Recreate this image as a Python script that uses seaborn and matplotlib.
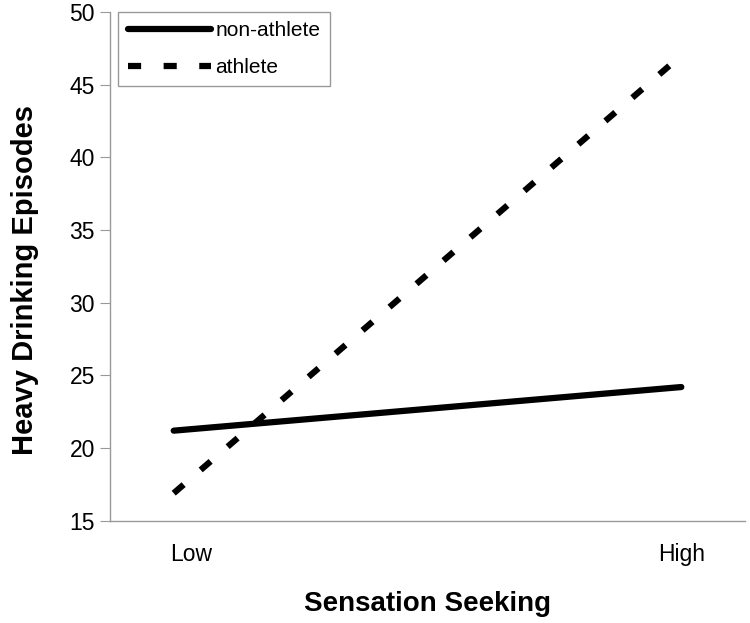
import seaborn as sns
import matplotlib.pyplot as plt
import pandas as pd

groups = ["non-athlete", "athlete"]
levels = ["Low", "High"]
non_athlete = [21.2, 24.2]
athlete = [16.9, 47.0]

df = pd.DataFrame({
    "x": [0, 1, 0, 1],
    "y": non_athlete + athlete,
    "group": [groups[0]] * 2 + [groups[1]] * 2,
})

sns.set_style("white")
plt.rcParams["font.family"] = ["Liberation Sans", "DejaVu Sans"]
plt.rcParams["text.color"] = "black"
plt.rcParams["axes.labelcolor"] = "black"
plt.rcParams["xtick.color"] = "black"
plt.rcParams["ytick.color"] = "black"

fig = plt.figure(figsize=(7.5, 6.23), dpi=100)
ax = fig.add_axes([0.147, 0.164, 0.846, 0.817])

sns.lineplot(data=df, x="x", y="y", style="group", style_order=groups,
             dashes={"non-athlete": "", "athlete": (2.1, 3.6)},
             color="black", lw=4.5, ax=ax)
for ln in ax.lines:
    ln.set_solid_capstyle("round")
    ln.set_dash_capstyle("butt")

ax.set_xlim(-0.125, 1.125)
ax.set_ylim(15, 50)
ax.set_yticks(range(15, 51, 5))
ax.set_xticks([-0.125, 0.5, 1.125])
ax.set_xticklabels([])
ax.set_xticks([0.035, 1.0], minor=True)
ax.set_xticklabels(levels, minor=True)
ax.tick_params(axis="x", which="minor", length=0, pad=16, labelsize=16.5)
ax.tick_params(axis="x", which="major", length=7, color="#999999", direction="out")
ax.tick_params(axis="y", length=7, color="#999999", direction="out", labelsize=16.5,
               left=True, pad=4)

for s in ["top", "right"]:
    ax.spines[s].set_visible(False)
for s in ["left", "bottom"]:
    ax.spines[s].set_color("#999999")
    ax.spines[s].set_linewidth(1)

ax.set_xlabel("Sensation Seeking", fontsize=20, fontweight="bold", labelpad=18)
ax.set_ylabel("Heavy Drinking Episodes", fontsize=21, fontweight="bold")
ax.yaxis.set_label_coords(-0.112, 0.473)

leg = ax.legend(loc="upper left", bbox_to_anchor=(0.013, 1.0), fontsize=15,
                handlelength=4.0, handletextpad=0.2, borderpad=0.45,
                labelspacing=0.85, borderaxespad=0, fancybox=False, framealpha=1)
leg.get_frame().set_edgecolor("#999999")
leg.get_frame().set_linewidth(1)

fig.savefig("out.png", dpi=100)
